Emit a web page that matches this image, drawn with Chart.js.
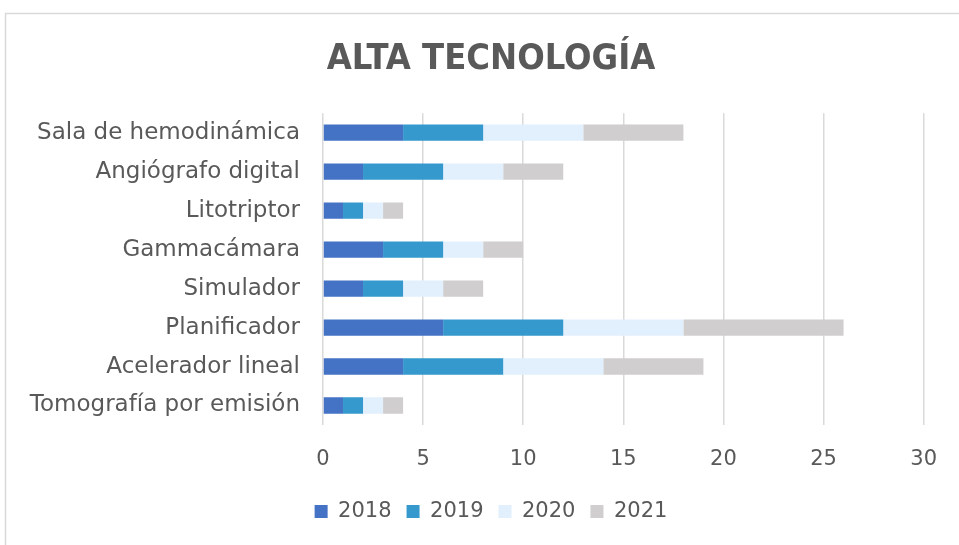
<!DOCTYPE html>
<html>
<head>
<meta charset="utf-8">
<script src="https://cdn.jsdelivr.net/npm/chart.js@4"></script>
<style>
  html, body { margin: 0; padding: 0; background: #fff; overflow: hidden; }
</style>
</head>
<body>
<canvas id="chart" width="959" height="545"></canvas>
<script>
/* ── Data ─────────────────────────────────────────────────── */
const categories = [
  'Sala de hemodinámica', 'Angiógrafo digital', 'Litotriptor', 'Gammacámara',
  'Simulador', 'Planificador', 'Acelerador lineal', 'Tomografía por emisión',
];
const years   = ['2018', '2019', '2020', '2021'];
const v2018   = [4, 2, 1, 3, 2, 6, 4, 1];
const v2019   = [4, 4, 1, 3, 2, 6, 5, 1];
const v2020   = [5, 3, 1, 2, 2, 6, 5, 1];
const v2021   = [5, 3, 1, 2, 2, 8, 5, 1];
const xTicks  = [0, 5, 10, 15, 20, 25, 30];

/* ── Theme ────────────────────────────────────────────────── */
const COLORS  = ['#4472C4', '#3599CD', '#E2EFFD', '#D0CECE'];
const TEXT    = '#595959';
const GRID    = '#D9D9D9';
const FONT    = "'DejaVu Sans', sans-serif";

const series = [v2018, v2019, v2020, v2021];

/* light frame of the chart object, open to the right and bottom */
const frame = {
  id: 'frame',
  beforeDraw: c => {
    const ctx = c.ctx;
    ctx.save();
    ctx.strokeStyle = GRID;
    ctx.lineWidth = 1.5;
    ctx.strokeRect(5.5, 13.5, 1000, 600);
    ctx.restore();
  },
};

new Chart(document.getElementById('chart').getContext('2d'), {
  type: 'bar',
  data: {
    labels: categories,
    datasets: years.map((y, i) => ({
      label: y,
      data: series[i],
      backgroundColor: COLORS[i],
      borderWidth: 0,
      barPercentage: 0.42,
      categoryPercentage: 1,
    })),
  },
  plugins: [frame],
  options: {
    indexAxis: 'y',
    responsive: false,
    animation: false,
    layout: { padding: { left: 23, right: 0, top: 16, bottom: 13 } },
    plugins: {
      title: {
        display: true,
        text: 'ALTA TECNOLOGÍA',
        color: TEXT,
        font: { family: "'DejaVu Sans Condensed', 'DejaVu Sans', sans-serif", size: 36, weight: 'bold' },
        padding: { top: 22, bottom: 32 },
      },
      legend: {
        position: 'bottom',
        labels: {
          color: TEXT,
          font: { family: FONT, size: 21 },
          boxWidth: 13,
          boxHeight: 13,
          padding: 15,
        },
      },
      tooltip: { enabled: false },
    },
    scales: {
      x: {
        stacked: true,
        min: 0,
        max: 30,
        afterBuildTicks: s => { s.ticks = xTicks.map(v => ({ value: v })); },
        afterFit: s => { s.height = 61; },
        grid: { color: GRID, lineWidth: 1.5, drawTicks: false },
        border: { display: false },
        ticks: { color: TEXT, font: { family: FONT, size: 21 }, padding: 22 },
      },
      y: {
        stacked: true,
        afterFit: s => { s.width = 300; },
        grid: { display: false, drawTicks: false },
        border: { display: false },
        ticks: { color: TEXT, font: { family: FONT, size: 23 }, padding: 23 },
      },
      /* empty right-hand gutter so the plot ends at 30 while title and legend stay centred */
      gutter: {
        type: 'category',
        position: 'right',
        afterFit: s => { s.width = 34; },
        grid: { display: false, drawTicks: false },
        border: { display: false },
        ticks: { display: false },
      },
    },
  },
});
</script>
</body>
</html>
